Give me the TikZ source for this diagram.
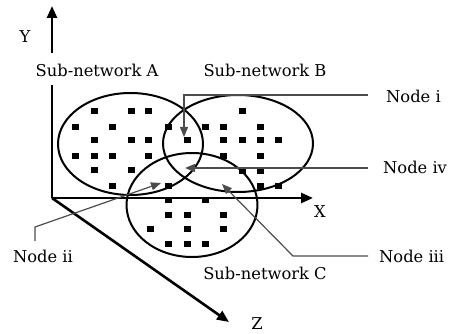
\documentclass[tikz,border=0pt]{standalone}
\usepackage{fontspec}
\setmainfont{DejaVu Serif}
\usetikzlibrary{arrows.meta,shapes.geometric}
\begin{document}
\begin{tikzpicture}[x=1pt,y=-1pt,
  axisline/.style={line width=2.6pt},
  axis/.style={line width=2.6pt,-{Triangle[length=12pt,width=10pt]}},
  net/.style={draw=black,line width=2pt,ellipse,inner sep=0pt},
  dot/.style={fill=black,minimum width=7pt,minimum height=6pt,inner sep=0pt,draw=none,rectangle},
  leader/.style={draw=black!70,line width=1.2pt},
  lab/.style={font=\fontsize{16.3}{19}\selectfont,inner sep=0pt},
]
\useasboundingbox (0,0) rectangle (451,334);

% sub-networks
\node[net,minimum width=145pt,minimum height=102pt] (A) at (130.5,144) {};
\node[net,minimum width=150pt,minimum height=97pt] (B) at (238,143.5) {};
\node[net,minimum width=131pt,minimum height=104pt] (C) at (192,205) {};

% dots
\foreach \p [count=\i] in {(94,111),(131,111),(148,111),
  (75,127),(112,127),(168,127),
  (94,140),(131,140),(148,140),
  (75,156),(94,156),(112,156),(148,156),
  (94,170),(131,170),(112,186),(168,186),
  (205,127),(223,127),(187,140),(223,140),(223,156),
  (242,111),(260,127),(242,140),(260,140),(278,140),(260,156),
  (242,171),(260,171),(260,186),(278,186),
  (168,200),(205,200),(168,215),(187,215),(223,215),
  (150,229),(187,229),(223,229),(168,244),(187,244),(205,244)}
  \node[dot] (d\i) at \p {};

% axes
\coordinate (O) at (52,198);
\coordinate (Ylow) at (52,85);
\coordinate (Yhigh) at (52,53);
\coordinate (Ytip) at (52,6);
\coordinate (Xtip) at (313,198);
\coordinate (Ztip) at (229,322);
\draw[axisline] (O) -- (Ylow);
\draw[axis] (Yhigh) -- (Ytip);
\draw[axis] (O) -- (Xtip);
\draw[axis] (O) -- (Ztip);

\node[lab] (ylab) at (25,37) {Y};
\node[lab] (xlab) at (320,212) {X};
\node[lab] (zlab) at (257,324) {Z};

% labels
\node[lab] (la) at (97,70) {Sub-network A};
\node[lab] (lb) at (265,70) {Sub-network B};
\node[lab] (lc) at (265,273) {Sub-network C};

\node[lab,anchor=west] (ni) at (386,96) {Node i};
\node[lab,anchor=west] (niv) at (383,167) {Node iv};
\node[lab,anchor=west] (niii) at (379,256) {Node iii};
\node[lab] (nii) at (43,256) {Node ii};

% leaders
\coordinate (ie) at (368,95);
\coordinate (ib) at (184,95);
\coordinate (it) at (184,137);
\draw[leader,-{Triangle[length=10pt,width=8pt,fill=black!70]}] (ie) -- (ib) -- (it);

\coordinate (ive) at (368,168);
\coordinate (ivt) at (185,168);
\draw[leader,-{Triangle[length=10pt,width=8pt,fill=black!70]}] (ive) -- (ivt);

\coordinate (iie) at (35,241);
\coordinate (iib) at (35,227);
\coordinate (iit) at (161,183);
\draw[leader,-{Triangle[length=10pt,width=8pt,fill=black!70]}] (iie) -- (iib) -- (iit);

\coordinate (iiie) at (368,256);
\coordinate (iiib) at (293,256);
\coordinate (iiit) at (222,184);
\draw[leader,-{Triangle[length=10pt,width=8pt,fill=black!70]}] (iiie) -- (iiib) -- (iiit);
\end{tikzpicture}
\end{document}
